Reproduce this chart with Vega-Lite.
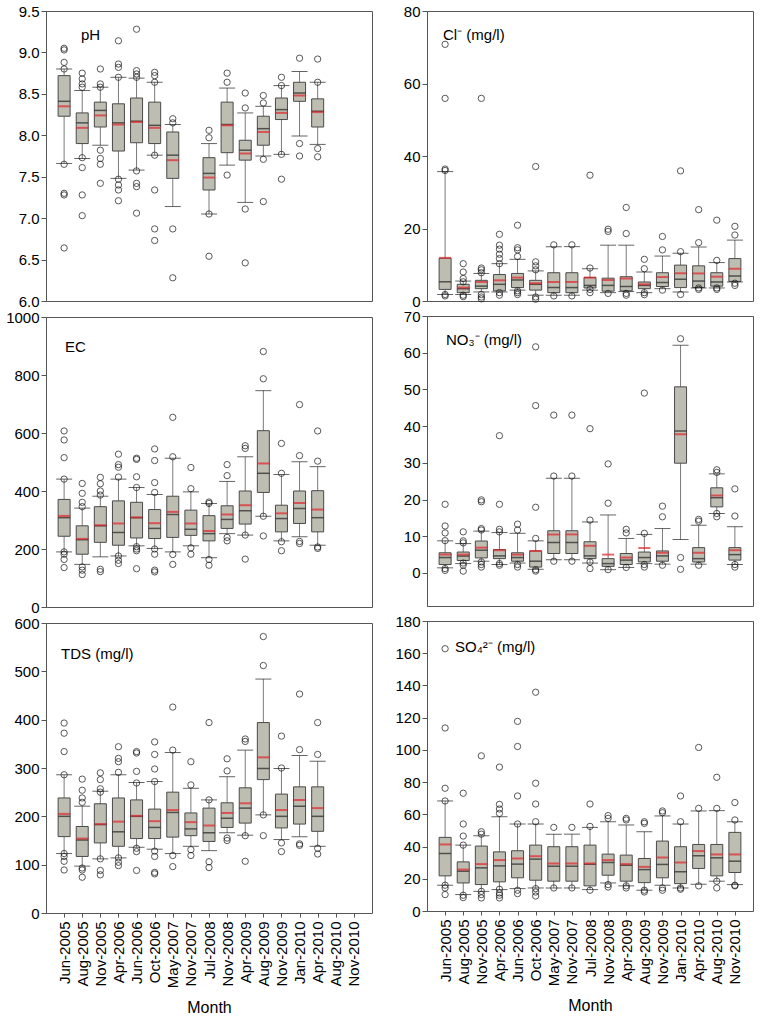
{
"$schema": "https://vega.github.io/schema/vega-lite/v6.json",
"padding": {"left": 5, "top": 3, "right": 2, "bottom": 5},
"background": "white",
"config": {
  "view": {"stroke": "#555", "strokeWidth": 1},
  "axis": {"grid": false, "labelOverlap": false, "labelFont": "Liberation Sans", "labelFontSize": 15, "labelColor": "#000", "domainColor": "#555", "tickColor": "#555", "tickSize": 5, "titleFont": "Liberation Sans", "titleFontSize": 16, "titleFontWeight": "normal", "titleColor": "#000"},
  "title": {"font": "Liberation Sans", "fontSize": 15, "fontWeight": "normal", "color": "#000", "anchor": "start", "frame": "group", "baseline": "top"}
},
"datasets": {
"stats": [
{"p":"pH","m":"Jun-2005","lo":7.66,"q1":8.23,"med":8.41,"mean":8.35,"q3":8.72,"hi":8.80},
{"p":"pH","m":"Aug-2005","lo":7.72,"q1":7.90,"med":8.15,"mean":8.09,"q3":8.27,"hi":8.54},
{"p":"pH","m":"Nov-2005","lo":7.88,"q1":8.10,"med":8.30,"mean":8.24,"q3":8.40,"hi":8.58},
{"p":"pH","m":"Apr-2006","lo":7.48,"q1":7.81,"med":8.15,"mean":8.13,"q3":8.38,"hi":8.70},
{"p":"pH","m":"Jun-2006","lo":7.58,"q1":7.91,"med":8.17,"mean":8.16,"q3":8.45,"hi":8.69},
{"p":"pH","m":"Oct-2006","lo":7.76,"q1":7.90,"med":8.12,"mean":8.09,"q3":8.40,"hi":8.64},
{"p":"pH","m":"May-2007","lo":7.14,"q1":7.48,"med":7.76,"mean":7.70,"q3":8.04,"hi":8.13},
{"p":"pH","m":"Jul-2008","lo":7.05,"q1":7.34,"med":7.54,"mean":7.49,"q3":7.73,"hi":7.90},
{"p":"pH","m":"Nov-2008","lo":7.64,"q1":7.79,"med":8.13,"mean":8.12,"q3":8.40,"hi":8.57},
{"p":"pH","m":"Apr-2009","lo":7.19,"q1":7.70,"med":7.82,"mean":7.78,"q3":7.94,"hi":8.27},
{"p":"pH","m":"Aug-2009","lo":7.75,"q1":7.88,"med":8.08,"mean":8.04,"q3":8.23,"hi":8.35},
{"p":"pH","m":"Nov-2009","lo":7.77,"q1":8.19,"med":8.31,"mean":8.27,"q3":8.45,"hi":8.60},
{"p":"pH","m":"Jan-2010","lo":7.99,"q1":8.41,"med":8.51,"mean":8.48,"q3":8.64,"hi":8.77},
{"p":"pH","m":"Apr-2010","lo":7.89,"q1":8.10,"med":8.29,"mean":8.28,"q3":8.44,"hi":8.64},
{"p":"EC","m":"Jun-2005","lo":190,"q1":244,"med":308,"mean":314,"q3":371,"hi":441},
{"p":"EC","m":"Aug-2005","lo":147,"q1":182,"med":232,"mean":235,"q3":280,"hi":341},
{"p":"EC","m":"Nov-2005","lo":173,"q1":223,"med":280,"mean":282,"q3":346,"hi":382},
{"p":"EC","m":"Apr-2006","lo":176,"q1":213,"med":257,"mean":288,"q3":366,"hi":441},
{"p":"EC","m":"Jun-2006","lo":211,"q1":238,"med":308,"mean":309,"q3":361,"hi":412},
{"p":"EC","m":"Oct-2006","lo":202,"q1":236,"med":271,"mean":289,"q3":336,"hi":388},
{"p":"EC","m":"May-2007","lo":190,"q1":240,"med":319,"mean":328,"q3":382,"hi":513},
{"p":"EC","m":"Nov-2007","lo":211,"q1":247,"med":268,"mean":288,"q3":334,"hi":397},
{"p":"EC","m":"Jul-2008","lo":170,"q1":228,"med":253,"mean":262,"q3":315,"hi":357},
{"p":"EC","m":"Nov-2008","lo":253,"q1":271,"med":302,"mean":319,"q3":349,"hi":433},
{"p":"EC","m":"Apr-2009","lo":248,"q1":286,"med":332,"mean":351,"q3":400,"hi":518},
{"p":"EC","m":"Aug-2009","lo":313,"q1":395,"med":461,"mean":495,"q3":608,"hi":746},
{"p":"EC","m":"Nov-2009","lo":228,"q1":259,"med":305,"mean":323,"q3":351,"hi":457},
{"p":"EC","m":"Jan-2010","lo":242,"q1":288,"med":340,"mean":359,"q3":400,"hi":501},
{"p":"EC","m":"Apr-2010","lo":213,"q1":259,"med":308,"mean":336,"q3":401,"hi":484},
{"p":"TDS","m":"Jun-2005","lo":123,"q1":158,"med":200,"mean":205,"q3":238,"hi":286},
{"p":"TDS","m":"Aug-2005","lo":97,"q1":117,"med":151,"mean":154,"q3":179,"hi":221},
{"p":"TDS","m":"Nov-2005","lo":112,"q1":145,"med":183,"mean":184,"q3":226,"hi":252},
{"p":"TDS","m":"Apr-2006","lo":114,"q1":138,"med":168,"mean":189,"q3":238,"hi":286},
{"p":"TDS","m":"Jun-2006","lo":136,"q1":154,"med":200,"mean":201,"q3":234,"hi":270},
{"p":"TDS","m":"Oct-2006","lo":132,"q1":154,"med":177,"mean":190,"q3":215,"hi":272},
{"p":"TDS","m":"May-2007","lo":123,"q1":157,"med":208,"mean":213,"q3":250,"hi":332},
{"p":"TDS","m":"Nov-2007","lo":138,"q1":160,"med":174,"mean":188,"q3":207,"hi":258},
{"p":"TDS","m":"Jul-2008","lo":129,"q1":148,"med":166,"mean":181,"q3":217,"hi":234},
{"p":"TDS","m":"Nov-2008","lo":166,"q1":177,"med":196,"mean":207,"q3":228,"hi":282},
{"p":"TDS","m":"Apr-2009","lo":161,"q1":186,"med":217,"mean":227,"q3":259,"hi":337},
{"p":"TDS","m":"Aug-2009","lo":203,"q1":276,"med":299,"mean":322,"q3":394,"hi":484},
{"p":"TDS","m":"Nov-2009","lo":152,"q1":176,"med":200,"mean":213,"q3":246,"hi":299},
{"p":"TDS","m":"Jan-2010","lo":158,"q1":184,"med":221,"mean":234,"q3":261,"hi":326},
{"p":"TDS","m":"Apr-2010","lo":138,"q1":169,"med":200,"mean":217,"q3":261,"hi":314},
{"p":"Cl","m":"Jun-2005","lo":1.8,"q1":3.2,"med":5.3,"mean":11.9,"q3":11.8,"hi":35.7},
{"p":"Cl","m":"Aug-2005","lo":1.8,"q1":2.3,"med":3.4,"mean":3.7,"q3":4.6,"hi":5.5},
{"p":"Cl","m":"Nov-2005","lo":2.5,"q1":3.4,"med":4.1,"mean":5.25,"q3":5.7,"hi":7.6},
{"p":"Cl","m":"Apr-2006","lo":2.5,"q1":2.8,"med":4.6,"mean":5.7,"q3":7.3,"hi":10.3},
{"p":"Cl","m":"Jun-2006","lo":3.0,"q1":3.7,"med":5.8,"mean":6.45,"q3":7.6,"hi":11.5},
{"p":"Cl","m":"Oct-2006","lo":1.6,"q1":3.0,"med":4.6,"mean":4.9,"q3":5.7,"hi":8.3},
{"p":"Cl","m":"May-2007","lo":1.6,"q1":2.3,"med":3.7,"mean":5.25,"q3":7.8,"hi":15.0},
{"p":"Cl","m":"Nov-2007","lo":1.6,"q1":2.3,"med":3.7,"mean":5.25,"q3":7.8,"hi":15.0},
{"p":"Cl","m":"Jul-2008","lo":3.0,"q1":3.6,"med":4.3,"mean":6.45,"q3":6.5,"hi":8.9},
{"p":"Cl","m":"Nov-2008","lo":2.3,"q1":2.7,"med":4.3,"mean":5.8,"q3":6.3,"hi":15.4},
{"p":"Cl","m":"Apr-2009","lo":2.6,"q1":2.8,"med":4.0,"mean":6.2,"q3":6.7,"hi":15.4},
{"p":"Cl","m":"Aug-2009","lo":2.3,"q1":3.4,"med":4.3,"mean":4.6,"q3":5.25,"hi":8.0},
{"p":"Cl","m":"Nov-2009","lo":3.4,"q1":4.0,"med":5.1,"mean":6.6,"q3":7.8,"hi":12.4},
{"p":"Cl","m":"Jan-2010","lo":2.5,"q1":3.7,"med":6.0,"mean":7.65,"q3":9.9,"hi":13.2},
{"p":"Cl","m":"Apr-2010","lo":3.6,"q1":3.7,"med":5.5,"mean":7.6,"q3":9.7,"hi":14.9},
{"p":"Cl","m":"Aug-2010","lo":3.6,"q1":4.1,"med":5.25,"mean":6.7,"q3":7.8,"hi":10.6},
{"p":"Cl","m":"Nov-2010","lo":5.25,"q1":5.4,"med":6.9,"mean":8.9,"q3":11.7,"hi":16.8},
{"p":"NO3","m":"Jun-2005","lo":1.4,"q1":2.3,"med":4.2,"mean":5.0,"q3":5.5,"hi":8.75},
{"p":"NO3","m":"Aug-2005","lo":2.55,"q1":3.4,"med":4.6,"mean":5.0,"q3":5.7,"hi":8.0},
{"p":"NO3","m":"Nov-2005","lo":3.2,"q1":4.1,"med":6.2,"mean":6.9,"q3":8.7,"hi":11.4},
{"p":"NO3","m":"Apr-2006","lo":2.3,"q1":3.9,"med":4.65,"mean":6.2,"q3":6.4,"hi":11.0},
{"p":"NO3","m":"Jun-2006","lo":2.7,"q1":3.2,"med":4.2,"mean":5.0,"q3":5.5,"hi":10.8},
{"p":"NO3","m":"Oct-2006","lo":1.0,"q1":1.6,"med":3.2,"mean":6.0,"q3":6.0,"hi":8.75},
{"p":"NO3","m":"May-2007","lo":3.6,"q1":5.3,"med":8.3,"mean":10.5,"q3":11.5,"hi":25.8},
{"p":"NO3","m":"Nov-2007","lo":3.6,"q1":5.3,"med":8.3,"mean":10.5,"q3":11.5,"hi":25.8},
{"p":"NO3","m":"Jul-2008","lo":2.7,"q1":3.9,"med":4.65,"mean":7.4,"q3":8.5,"hi":13.9},
{"p":"NO3","m":"Nov-2008","lo":0.9,"q1":1.8,"med":2.55,"mean":5.0,"q3":3.9,"hi":15.8},
{"p":"NO3","m":"Apr-2009","lo":1.5,"q1":2.3,"med":3.5,"mean":4.2,"q3":5.3,"hi":9.4},
{"p":"NO3","m":"Aug-2009","lo":2.55,"q1":3.0,"med":4.2,"mean":6.8,"q3":5.7,"hi":10.5},
{"p":"NO3","m":"Nov-2009","lo":2.4,"q1":3.2,"med":4.65,"mean":5.5,"q3":6.0,"hi":12.1},
{"p":"NO3","m":"Jan-2010","lo":9.1,"q1":29.9,"med":38.7,"mean":37.8,"q3":50.7,"hi":62.0},
{"p":"NO3","m":"Apr-2010","lo":2.4,"q1":3.0,"med":3.9,"mean":5.5,"q3":6.9,"hi":13.0},
{"p":"NO3","m":"Aug-2010","lo":16.2,"q1":18.0,"med":20.5,"mean":21.1,"q3":23.2,"hi":27.0},
{"p":"NO3","m":"Nov-2010","lo":2.3,"q1":3.5,"med":5.0,"mean":6.2,"q3":6.9,"hi":12.6},
{"p":"SO4","m":"Jun-2005","lo":16.0,"q1":21.8,"med":35.7,"mean":41.3,"q3":45.7,"hi":68.3},
{"p":"SO4","m":"Aug-2005","lo":10.2,"q1":17.4,"med":24.7,"mean":25.7,"q3":30.5,"hi":40.9},
{"p":"SO4","m":"Nov-2005","lo":12.2,"q1":16.4,"med":26.8,"mean":29.1,"q3":40.3,"hi":46.7},
{"p":"SO4","m":"Apr-2006","lo":13.3,"q1":18.1,"med":28.0,"mean":31.6,"q3":36.7,"hi":58.5},
{"p":"SO4","m":"Jun-2006","lo":13.9,"q1":20.6,"med":29.1,"mean":32.6,"q3":37.4,"hi":54.0},
{"p":"SO4","m":"Oct-2006","lo":14.3,"q1":19.1,"med":32.2,"mean":34.0,"q3":40.9,"hi":54.0},
{"p":"SO4","m":"May-2007","lo":14.3,"q1":18.5,"med":27.8,"mean":29.5,"q3":39.9,"hi":47.7},
{"p":"SO4","m":"Nov-2007","lo":14.3,"q1":18.5,"med":27.8,"mean":29.5,"q3":39.9,"hi":47.7},
{"p":"SO4","m":"Jul-2008","lo":13.3,"q1":15.6,"med":29.0,"mean":29.5,"q3":40.9,"hi":51.9},
{"p":"SO4","m":"Nov-2008","lo":17.4,"q1":22.2,"med":30.1,"mean":31.6,"q3":35.3,"hi":55.4},
{"p":"SO4","m":"Apr-2009","lo":15.6,"q1":18.5,"med":28.4,"mean":29.1,"q3":34.7,"hi":53.4},
{"p":"SO4","m":"Aug-2009","lo":12.9,"q1":17.6,"med":25.7,"mean":27.4,"q3":32.6,"hi":49.2},
{"p":"SO4","m":"Nov-2009","lo":16.0,"q1":20.6,"med":28.9,"mean":33.2,"q3":43.4,"hi":59.0},
{"p":"SO4","m":"Jan-2010","lo":14.3,"q1":17.0,"med":24.3,"mean":30.1,"q3":39.9,"hi":54.0},
{"p":"SO4","m":"Apr-2010","lo":16.6,"q1":26.4,"med":34.3,"mean":37.2,"q3":41.3,"hi":62.1},
{"p":"SO4","m":"Aug-2010","lo":18.5,"q1":21.8,"med":33.0,"mean":35.1,"q3":41.3,"hi":62.3},
{"p":"SO4","m":"Nov-2010","lo":16.4,"q1":23.9,"med":30.9,"mean":35.1,"q3":48.8,"hi":55.4}
],
"out": [
{"p":"pH","m":"Jun-2005","v":9.05},{"p":"pH","m":"Jun-2005","v":9.03},{"p":"pH","m":"Jun-2005","v":8.88},{"p":"pH","m":"Jun-2005","v":8.80},{"p":"pH","m":"Jun-2005","v":7.65},{"p":"pH","m":"Jun-2005","v":7.30},{"p":"pH","m":"Jun-2005","v":7.28},{"p":"pH","m":"Jun-2005","v":6.64},
{"p":"pH","m":"Aug-2005","v":8.75},{"p":"pH","m":"Aug-2005","v":8.68},{"p":"pH","m":"Aug-2005","v":8.62},{"p":"pH","m":"Aug-2005","v":8.58},{"p":"pH","m":"Aug-2005","v":7.73},{"p":"pH","m":"Aug-2005","v":7.61},{"p":"pH","m":"Aug-2005","v":7.28},{"p":"pH","m":"Aug-2005","v":7.03},
{"p":"pH","m":"Nov-2005","v":8.80},{"p":"pH","m":"Nov-2005","v":8.62},{"p":"pH","m":"Nov-2005","v":8.58},{"p":"pH","m":"Nov-2005","v":7.82},{"p":"pH","m":"Nov-2005","v":7.72},{"p":"pH","m":"Nov-2005","v":7.65},{"p":"pH","m":"Nov-2005","v":7.42},
{"p":"pH","m":"Apr-2006","v":9.14},{"p":"pH","m":"Apr-2006","v":8.86},{"p":"pH","m":"Apr-2006","v":8.82},{"p":"pH","m":"Apr-2006","v":8.70},{"p":"pH","m":"Apr-2006","v":7.47},{"p":"pH","m":"Apr-2006","v":7.40},{"p":"pH","m":"Apr-2006","v":7.34},{"p":"pH","m":"Apr-2006","v":7.21},
{"p":"pH","m":"Jun-2006","v":9.28},{"p":"pH","m":"Jun-2006","v":8.78},{"p":"pH","m":"Jun-2006","v":8.74},{"p":"pH","m":"Jun-2006","v":8.70},{"p":"pH","m":"Jun-2006","v":7.57},{"p":"pH","m":"Jun-2006","v":7.42},{"p":"pH","m":"Jun-2006","v":7.38},{"p":"pH","m":"Jun-2006","v":7.06},
{"p":"pH","m":"Oct-2006","v":8.76},{"p":"pH","m":"Oct-2006","v":8.72},{"p":"pH","m":"Oct-2006","v":8.64},{"p":"pH","m":"Oct-2006","v":7.76},{"p":"pH","m":"Oct-2006","v":7.34},{"p":"pH","m":"Oct-2006","v":6.87},{"p":"pH","m":"Oct-2006","v":6.73},
{"p":"pH","m":"May-2007","v":8.20},{"p":"pH","m":"May-2007","v":8.15},{"p":"pH","m":"May-2007","v":6.87},{"p":"pH","m":"May-2007","v":6.28},
{"p":"pH","m":"Jul-2008","v":8.06},{"p":"pH","m":"Jul-2008","v":7.97},{"p":"pH","m":"Jul-2008","v":7.05},{"p":"pH","m":"Jul-2008","v":6.54},
{"p":"pH","m":"Nov-2008","v":8.75},{"p":"pH","m":"Nov-2008","v":8.64},{"p":"pH","m":"Nov-2008","v":7.52},
{"p":"pH","m":"Apr-2009","v":8.51},{"p":"pH","m":"Apr-2009","v":8.33},{"p":"pH","m":"Apr-2009","v":7.11},{"p":"pH","m":"Apr-2009","v":6.46},
{"p":"pH","m":"Aug-2009","v":8.48},{"p":"pH","m":"Aug-2009","v":8.39},{"p":"pH","m":"Aug-2009","v":7.71},{"p":"pH","m":"Aug-2009","v":7.20},
{"p":"pH","m":"Nov-2009","v":8.70},{"p":"pH","m":"Nov-2009","v":8.60},{"p":"pH","m":"Nov-2009","v":7.77},{"p":"pH","m":"Nov-2009","v":7.47},
{"p":"pH","m":"Jan-2010","v":8.93},{"p":"pH","m":"Jan-2010","v":7.90},{"p":"pH","m":"Jan-2010","v":7.75},
{"p":"pH","m":"Apr-2010","v":8.92},{"p":"pH","m":"Apr-2010","v":8.64},{"p":"pH","m":"Apr-2010","v":7.84},{"p":"pH","m":"Apr-2010","v":7.74},
{"p":"EC","m":"Jun-2005","v":607},{"p":"EC","m":"Jun-2005","v":576},{"p":"EC","m":"Jun-2005","v":515},{"p":"EC","m":"Jun-2005","v":441},{"p":"EC","m":"Jun-2005","v":190},{"p":"EC","m":"Jun-2005","v":182},{"p":"EC","m":"Jun-2005","v":164},{"p":"EC","m":"Jun-2005","v":136},
{"p":"EC","m":"Aug-2005","v":426},{"p":"EC","m":"Aug-2005","v":392},{"p":"EC","m":"Aug-2005","v":361},{"p":"EC","m":"Aug-2005","v":346},{"p":"EC","m":"Aug-2005","v":138},{"p":"EC","m":"Aug-2005","v":127},{"p":"EC","m":"Aug-2005","v":112},
{"p":"EC","m":"Nov-2005","v":447},{"p":"EC","m":"Nov-2005","v":425},{"p":"EC","m":"Nov-2005","v":400},{"p":"EC","m":"Nov-2005","v":386},{"p":"EC","m":"Nov-2005","v":130},{"p":"EC","m":"Nov-2005","v":122},
{"p":"EC","m":"Apr-2006","v":527},{"p":"EC","m":"Apr-2006","v":491},{"p":"EC","m":"Apr-2006","v":482},{"p":"EC","m":"Apr-2006","v":448},{"p":"EC","m":"Apr-2006","v":176},{"p":"EC","m":"Apr-2006","v":161},{"p":"EC","m":"Apr-2006","v":150},
{"p":"EC","m":"Jun-2006","v":513},{"p":"EC","m":"Jun-2006","v":509},{"p":"EC","m":"Jun-2006","v":449},{"p":"EC","m":"Jun-2006","v":412},{"p":"EC","m":"Jun-2006","v":208},{"p":"EC","m":"Jun-2006","v":200},{"p":"EC","m":"Jun-2006","v":194},{"p":"EC","m":"Jun-2006","v":132},
{"p":"EC","m":"Oct-2006","v":545},{"p":"EC","m":"Oct-2006","v":505},{"p":"EC","m":"Oct-2006","v":429},{"p":"EC","m":"Oct-2006","v":395},{"p":"EC","m":"Oct-2006","v":200},{"p":"EC","m":"Oct-2006","v":182},{"p":"EC","m":"Oct-2006","v":127},{"p":"EC","m":"Oct-2006","v":121},
{"p":"EC","m":"May-2007","v":654},{"p":"EC","m":"May-2007","v":518},{"p":"EC","m":"May-2007","v":181},{"p":"EC","m":"May-2007","v":147},
{"p":"EC","m":"Nov-2007","v":481},{"p":"EC","m":"Nov-2007","v":408},{"p":"EC","m":"Nov-2007","v":204},{"p":"EC","m":"Nov-2007","v":182},
{"p":"EC","m":"Jul-2008","v":362},{"p":"EC","m":"Jul-2008","v":357},{"p":"EC","m":"Jul-2008","v":164},{"p":"EC","m":"Jul-2008","v":144},
{"p":"EC","m":"Nov-2008","v":491},{"p":"EC","m":"Nov-2008","v":453},{"p":"EC","m":"Nov-2008","v":240},{"p":"EC","m":"Nov-2008","v":228},
{"p":"EC","m":"Apr-2009","v":556},{"p":"EC","m":"Apr-2009","v":547},{"p":"EC","m":"Apr-2009","v":248},{"p":"EC","m":"Apr-2009","v":165},
{"p":"EC","m":"Aug-2009","v":881},{"p":"EC","m":"Aug-2009","v":787},{"p":"EC","m":"Aug-2009","v":313},{"p":"EC","m":"Aug-2009","v":245},
{"p":"EC","m":"Nov-2009","v":564},{"p":"EC","m":"Nov-2009","v":461},{"p":"EC","m":"Nov-2009","v":225},{"p":"EC","m":"Nov-2009","v":194},
{"p":"EC","m":"Jan-2010","v":698},{"p":"EC","m":"Jan-2010","v":522},{"p":"EC","m":"Jan-2010","v":226},{"p":"EC","m":"Jan-2010","v":219},
{"p":"EC","m":"Apr-2010","v":607},{"p":"EC","m":"Apr-2010","v":503},{"p":"EC","m":"Apr-2010","v":207},{"p":"EC","m":"Apr-2010","v":202},
{"p":"TDS","m":"Jun-2005","v":393},{"p":"TDS","m":"Jun-2005","v":372},{"p":"TDS","m":"Jun-2005","v":334},{"p":"TDS","m":"Jun-2005","v":286},{"p":"TDS","m":"Jun-2005","v":123},{"p":"TDS","m":"Jun-2005","v":117},{"p":"TDS","m":"Jun-2005","v":107},{"p":"TDS","m":"Jun-2005","v":89},
{"p":"TDS","m":"Aug-2005","v":277},{"p":"TDS","m":"Aug-2005","v":254},{"p":"TDS","m":"Aug-2005","v":238},{"p":"TDS","m":"Aug-2005","v":229},{"p":"TDS","m":"Aug-2005","v":93},{"p":"TDS","m":"Aug-2005","v":89},{"p":"TDS","m":"Aug-2005","v":74},
{"p":"TDS","m":"Nov-2005","v":290},{"p":"TDS","m":"Nov-2005","v":276},{"p":"TDS","m":"Nov-2005","v":257},{"p":"TDS","m":"Nov-2005","v":250},{"p":"TDS","m":"Nov-2005","v":112},{"p":"TDS","m":"Nov-2005","v":88},{"p":"TDS","m":"Nov-2005","v":79},
{"p":"TDS","m":"Apr-2006","v":344},{"p":"TDS","m":"Apr-2006","v":320},{"p":"TDS","m":"Apr-2006","v":313},{"p":"TDS","m":"Apr-2006","v":291},{"p":"TDS","m":"Apr-2006","v":114},{"p":"TDS","m":"Apr-2006","v":105},{"p":"TDS","m":"Apr-2006","v":98},
{"p":"TDS","m":"Jun-2006","v":334},{"p":"TDS","m":"Jun-2006","v":331},{"p":"TDS","m":"Jun-2006","v":293},{"p":"TDS","m":"Jun-2006","v":269},{"p":"TDS","m":"Jun-2006","v":134},{"p":"TDS","m":"Jun-2006","v":127},{"p":"TDS","m":"Jun-2006","v":88},
{"p":"TDS","m":"Oct-2006","v":354},{"p":"TDS","m":"Oct-2006","v":328},{"p":"TDS","m":"Oct-2006","v":298},{"p":"TDS","m":"Oct-2006","v":272},{"p":"TDS","m":"Oct-2006","v":128},{"p":"TDS","m":"Oct-2006","v":117},{"p":"TDS","m":"Oct-2006","v":84},{"p":"TDS","m":"Oct-2006","v":81},
{"p":"TDS","m":"May-2007","v":426},{"p":"TDS","m":"May-2007","v":337},{"p":"TDS","m":"May-2007","v":119},{"p":"TDS","m":"May-2007","v":96},
{"p":"TDS","m":"Nov-2007","v":313},{"p":"TDS","m":"Nov-2007","v":265},{"p":"TDS","m":"Nov-2007","v":131},{"p":"TDS","m":"Nov-2007","v":119},
{"p":"TDS","m":"Jul-2008","v":394},{"p":"TDS","m":"Jul-2008","v":234},{"p":"TDS","m":"Jul-2008","v":106},{"p":"TDS","m":"Jul-2008","v":94},
{"p":"TDS","m":"Nov-2008","v":319},{"p":"TDS","m":"Nov-2008","v":294},{"p":"TDS","m":"Nov-2008","v":155},{"p":"TDS","m":"Nov-2008","v":150},
{"p":"TDS","m":"Apr-2009","v":360},{"p":"TDS","m":"Apr-2009","v":355},{"p":"TDS","m":"Apr-2009","v":160},{"p":"TDS","m":"Apr-2009","v":107},
{"p":"TDS","m":"Aug-2009","v":572},{"p":"TDS","m":"Aug-2009","v":512},{"p":"TDS","m":"Aug-2009","v":203},{"p":"TDS","m":"Aug-2009","v":160},
{"p":"TDS","m":"Nov-2009","v":366},{"p":"TDS","m":"Nov-2009","v":300},{"p":"TDS","m":"Nov-2009","v":145},{"p":"TDS","m":"Nov-2009","v":127},
{"p":"TDS","m":"Jan-2010","v":453},{"p":"TDS","m":"Jan-2010","v":338},{"p":"TDS","m":"Jan-2010","v":143},{"p":"TDS","m":"Jan-2010","v":140},
{"p":"TDS","m":"Apr-2010","v":394},{"p":"TDS","m":"Apr-2010","v":328},{"p":"TDS","m":"Apr-2010","v":134},{"p":"TDS","m":"Apr-2010","v":122},
{"p":"Cl","m":"Jun-2005","v":70.8},{"p":"Cl","m":"Jun-2005","v":55.9},{"p":"Cl","m":"Jun-2005","v":36.4},{"p":"Cl","m":"Jun-2005","v":36.0},{"p":"Cl","m":"Jun-2005","v":1.8},{"p":"Cl","m":"Jun-2005","v":1.4},
{"p":"Cl","m":"Aug-2005","v":10.3},{"p":"Cl","m":"Aug-2005","v":8.0},{"p":"Cl","m":"Aug-2005","v":6.2},{"p":"Cl","m":"Aug-2005","v":5.3},{"p":"Cl","m":"Aug-2005","v":1.6},{"p":"Cl","m":"Aug-2005","v":1.2},
{"p":"Cl","m":"Nov-2005","v":55.9},{"p":"Cl","m":"Nov-2005","v":9.1},{"p":"Cl","m":"Nov-2005","v":8.6},{"p":"Cl","m":"Nov-2005","v":7.8},{"p":"Cl","m":"Nov-2005","v":1.8},{"p":"Cl","m":"Nov-2005","v":1.1},{"p":"Cl","m":"Nov-2005","v":0.6},
{"p":"Cl","m":"Apr-2006","v":18.4},{"p":"Cl","m":"Apr-2006","v":15.4},{"p":"Cl","m":"Apr-2006","v":14.3},{"p":"Cl","m":"Apr-2006","v":12.9},{"p":"Cl","m":"Apr-2006","v":11.7},{"p":"Cl","m":"Apr-2006","v":10.3},{"p":"Cl","m":"Apr-2006","v":2.3},{"p":"Cl","m":"Apr-2006","v":1.6},
{"p":"Cl","m":"Jun-2006","v":20.9},{"p":"Cl","m":"Jun-2006","v":14.7},{"p":"Cl","m":"Jun-2006","v":14.1},{"p":"Cl","m":"Jun-2006","v":12.3},{"p":"Cl","m":"Jun-2006","v":2.8},{"p":"Cl","m":"Jun-2006","v":2.3},{"p":"Cl","m":"Jun-2006","v":1.8},
{"p":"Cl","m":"Oct-2006","v":37.1},{"p":"Cl","m":"Oct-2006","v":10.8},{"p":"Cl","m":"Oct-2006","v":9.7},{"p":"Cl","m":"Oct-2006","v":8.6},{"p":"Cl","m":"Oct-2006","v":1.1},{"p":"Cl","m":"Oct-2006","v":0.5},
{"p":"Cl","m":"May-2007","v":15.5},{"p":"Cl","m":"May-2007","v":1.4},
{"p":"Cl","m":"Nov-2007","v":15.5},{"p":"Cl","m":"Nov-2007","v":1.4},
{"p":"Cl","m":"Jul-2008","v":34.7},{"p":"Cl","m":"Jul-2008","v":9.1},{"p":"Cl","m":"Jul-2008","v":3.2},{"p":"Cl","m":"Jul-2008","v":2.3},
{"p":"Cl","m":"Nov-2008","v":19.8},{"p":"Cl","m":"Nov-2008","v":19.2},{"p":"Cl","m":"Nov-2008","v":2.1},
{"p":"Cl","m":"Apr-2009","v":25.8},{"p":"Cl","m":"Apr-2009","v":18.6},{"p":"Cl","m":"Apr-2009","v":2.1},{"p":"Cl","m":"Apr-2009","v":1.6},
{"p":"Cl","m":"Aug-2009","v":11.5},{"p":"Cl","m":"Aug-2009","v":8.9},{"p":"Cl","m":"Aug-2009","v":2.3},{"p":"Cl","m":"Aug-2009","v":1.75},
{"p":"Cl","m":"Nov-2009","v":17.8},{"p":"Cl","m":"Nov-2009","v":14.1},{"p":"Cl","m":"Nov-2009","v":3.0},
{"p":"Cl","m":"Jan-2010","v":35.9},{"p":"Cl","m":"Jan-2010","v":13.6},{"p":"Cl","m":"Jan-2010","v":1.8},
{"p":"Cl","m":"Apr-2010","v":25.2},{"p":"Cl","m":"Apr-2010","v":16.1},{"p":"Cl","m":"Apr-2010","v":3.6},{"p":"Cl","m":"Apr-2010","v":3.2},
{"p":"Cl","m":"Aug-2010","v":22.3},{"p":"Cl","m":"Aug-2010","v":11.2},{"p":"Cl","m":"Aug-2010","v":3.6},{"p":"Cl","m":"Aug-2010","v":3.2},
{"p":"Cl","m":"Nov-2010","v":20.6},{"p":"Cl","m":"Nov-2010","v":18.2},{"p":"Cl","m":"Nov-2010","v":4.9},{"p":"Cl","m":"Nov-2010","v":4.3},
{"p":"NO3","m":"Jun-2005","v":18.7},{"p":"NO3","m":"Jun-2005","v":12.8},{"p":"NO3","m":"Jun-2005","v":10.9},{"p":"NO3","m":"Jun-2005","v":8.8},{"p":"NO3","m":"Jun-2005","v":1.2},{"p":"NO3","m":"Jun-2005","v":0.7},
{"p":"NO3","m":"Aug-2005","v":11.2},{"p":"NO3","m":"Aug-2005","v":8.75},{"p":"NO3","m":"Aug-2005","v":8.2},{"p":"NO3","m":"Aug-2005","v":2.7},{"p":"NO3","m":"Aug-2005","v":2.1},{"p":"NO3","m":"Aug-2005","v":0.5},
{"p":"NO3","m":"Nov-2005","v":19.9},{"p":"NO3","m":"Nov-2005","v":19.4},{"p":"NO3","m":"Nov-2005","v":12.1},{"p":"NO3","m":"Nov-2005","v":11.7},{"p":"NO3","m":"Nov-2005","v":3.0},{"p":"NO3","m":"Nov-2005","v":2.3},{"p":"NO3","m":"Nov-2005","v":1.6},
{"p":"NO3","m":"Apr-2006","v":37.4},{"p":"NO3","m":"Apr-2006","v":18.7},{"p":"NO3","m":"Apr-2006","v":11.9},{"p":"NO3","m":"Apr-2006","v":11.2},{"p":"NO3","m":"Apr-2006","v":2.55},{"p":"NO3","m":"Apr-2006","v":2.1},
{"p":"NO3","m":"Jun-2006","v":13.3},{"p":"NO3","m":"Jun-2006","v":11.7},{"p":"NO3","m":"Jun-2006","v":2.3},{"p":"NO3","m":"Jun-2006","v":1.6},
{"p":"NO3","m":"Oct-2006","v":61.6},{"p":"NO3","m":"Oct-2006","v":45.6},{"p":"NO3","m":"Oct-2006","v":17.9},{"p":"NO3","m":"Oct-2006","v":9.4},{"p":"NO3","m":"Oct-2006","v":0.9},{"p":"NO3","m":"Oct-2006","v":0.5},
{"p":"NO3","m":"May-2007","v":43.0},{"p":"NO3","m":"May-2007","v":26.4},{"p":"NO3","m":"May-2007","v":3.2},
{"p":"NO3","m":"Nov-2007","v":43.0},{"p":"NO3","m":"Nov-2007","v":26.4},{"p":"NO3","m":"Nov-2007","v":3.2},
{"p":"NO3","m":"Jul-2008","v":39.3},{"p":"NO3","m":"Jul-2008","v":14.4},{"p":"NO3","m":"Jul-2008","v":3.0},{"p":"NO3","m":"Jul-2008","v":1.2},
{"p":"NO3","m":"Nov-2008","v":29.7},{"p":"NO3","m":"Nov-2008","v":19.0},{"p":"NO3","m":"Nov-2008","v":0.9},
{"p":"NO3","m":"Apr-2009","v":11.9},{"p":"NO3","m":"Apr-2009","v":10.9},{"p":"NO3","m":"Apr-2009","v":1.5},
{"p":"NO3","m":"Aug-2009","v":49.0},{"p":"NO3","m":"Aug-2009","v":10.8},{"p":"NO3","m":"Aug-2009","v":2.3},{"p":"NO3","m":"Aug-2009","v":1.6},
{"p":"NO3","m":"Nov-2009","v":18.2},{"p":"NO3","m":"Nov-2009","v":15.3},{"p":"NO3","m":"Nov-2009","v":2.1},
{"p":"NO3","m":"Jan-2010","v":63.8},{"p":"NO3","m":"Jan-2010","v":4.2},{"p":"NO3","m":"Jan-2010","v":1.0},
{"p":"NO3","m":"Apr-2010","v":14.6},{"p":"NO3","m":"Apr-2010","v":14.1},{"p":"NO3","m":"Apr-2010","v":2.1},
{"p":"NO3","m":"Aug-2010","v":28.1},{"p":"NO3","m":"Aug-2010","v":27.4},{"p":"NO3","m":"Aug-2010","v":16.2},{"p":"NO3","m":"Aug-2010","v":15.3},
{"p":"NO3","m":"Nov-2010","v":22.9},{"p":"NO3","m":"Nov-2010","v":15.5},{"p":"NO3","m":"Nov-2010","v":2.3},{"p":"NO3","m":"Nov-2010","v":1.6},
{"p":"SO4","m":"Jun-2005","v":162.8},{"p":"SO4","m":"Jun-2005","v":113.6},{"p":"SO4","m":"Jun-2005","v":76.2},{"p":"SO4","m":"Jun-2005","v":68.3},{"p":"SO4","m":"Jun-2005","v":16.0},{"p":"SO4","m":"Jun-2005","v":14.3},{"p":"SO4","m":"Jun-2005","v":10.2},
{"p":"SO4","m":"Aug-2005","v":73.1},{"p":"SO4","m":"Aug-2005","v":54.0},{"p":"SO4","m":"Aug-2005","v":46.5},{"p":"SO4","m":"Aug-2005","v":40.9},{"p":"SO4","m":"Aug-2005","v":9.8},{"p":"SO4","m":"Aug-2005","v":8.3},
{"p":"SO4","m":"Nov-2005","v":96.3},{"p":"SO4","m":"Nov-2005","v":49.2},{"p":"SO4","m":"Nov-2005","v":47.7},{"p":"SO4","m":"Nov-2005","v":12.2},{"p":"SO4","m":"Nov-2005","v":10.2},{"p":"SO4","m":"Nov-2005","v":8.1},
{"p":"SO4","m":"Apr-2006","v":89.3},{"p":"SO4","m":"Apr-2006","v":66.2},{"p":"SO4","m":"Apr-2006","v":63.3},{"p":"SO4","m":"Apr-2006","v":60.6},{"p":"SO4","m":"Apr-2006","v":13.5},{"p":"SO4","m":"Apr-2006","v":11.2},{"p":"SO4","m":"Apr-2006","v":9.8},{"p":"SO4","m":"Apr-2006","v":8.1},
{"p":"SO4","m":"Jun-2006","v":117.7},{"p":"SO4","m":"Jun-2006","v":102.1},{"p":"SO4","m":"Jun-2006","v":71.4},{"p":"SO4","m":"Jun-2006","v":54.0},{"p":"SO4","m":"Jun-2006","v":12.9},{"p":"SO4","m":"Jun-2006","v":10.8},
{"p":"SO4","m":"Oct-2006","v":135.8},{"p":"SO4","m":"Oct-2006","v":79.3},{"p":"SO4","m":"Oct-2006","v":66.4},{"p":"SO4","m":"Oct-2006","v":55.4},{"p":"SO4","m":"Oct-2006","v":13.9},{"p":"SO4","m":"Oct-2006","v":11.8},{"p":"SO4","m":"Oct-2006","v":9.3},
{"p":"SO4","m":"May-2007","v":51.9},{"p":"SO4","m":"May-2007","v":14.3},
{"p":"SO4","m":"Nov-2007","v":51.9},{"p":"SO4","m":"Nov-2007","v":14.3},
{"p":"SO4","m":"Jul-2008","v":66.4},{"p":"SO4","m":"Jul-2008","v":52.5},{"p":"SO4","m":"Jul-2008","v":12.9},
{"p":"SO4","m":"Nov-2008","v":59.2},{"p":"SO4","m":"Nov-2008","v":57.5},{"p":"SO4","m":"Nov-2008","v":16.4},{"p":"SO4","m":"Nov-2008","v":14.9},
{"p":"SO4","m":"Apr-2009","v":57.5},{"p":"SO4","m":"Apr-2009","v":56.5},{"p":"SO4","m":"Apr-2009","v":15.6},{"p":"SO4","m":"Apr-2009","v":14.3},
{"p":"SO4","m":"Aug-2009","v":55.4},{"p":"SO4","m":"Aug-2009","v":54.4},{"p":"SO4","m":"Aug-2009","v":12.9},{"p":"SO4","m":"Aug-2009","v":11.8},
{"p":"SO4","m":"Nov-2009","v":62.1},{"p":"SO4","m":"Nov-2009","v":61.0},{"p":"SO4","m":"Nov-2009","v":14.3},{"p":"SO4","m":"Nov-2009","v":12.9},
{"p":"SO4","m":"Jan-2010","v":71.4},{"p":"SO4","m":"Jan-2010","v":55.4},{"p":"SO4","m":"Jan-2010","v":14.3},{"p":"SO4","m":"Jan-2010","v":13.5},
{"p":"SO4","m":"Apr-2010","v":101.5},{"p":"SO4","m":"Apr-2010","v":63.7},{"p":"SO4","m":"Apr-2010","v":15.6},
{"p":"SO4","m":"Aug-2010","v":83.0},{"p":"SO4","m":"Aug-2010","v":63.7},{"p":"SO4","m":"Aug-2010","v":18.5},{"p":"SO4","m":"Aug-2010","v":14.3},
{"p":"SO4","m":"Nov-2010","v":67.3},{"p":"SO4","m":"Nov-2010","v":56.5},{"p":"SO4","m":"Nov-2010","v":16.0},{"p":"SO4","m":"Nov-2010","v":15.6}
]
},
"spacing": 21,
"hconcat": [
{"bounds": "flush", "spacing": 16, "vconcat": [
{"width": 326, "height": 290,
 "title": {"text": "pH", "dx": 35, "offset": -39},
 "data": {"name": "stats"}, "transform": [{"filter": "datum.p === 'pH'"}],
 "encoding": {"x": {"field": "m", "type": "ordinal", "scale": {"type": "point", "padding": 1, "domain": ["Jun-2005","Aug-2005","Nov-2005","Apr-2006","Jun-2006","Oct-2006","May-2007","Nov-2007","Jul-2008","Nov-2008","Apr-2009","Aug-2009","Nov-2009","Jan-2010","Apr-2010","Aug-2010","Nov-2010"]}, "axis": {"labels": false, "ticks": false, "domain": false, "title": null}}},
 "layer": [
  {"mark": {"type": "rule", "color": "#7a7a7a"}, "encoding": {"y": {"field": "lo", "type": "quantitative", "title": null, "scale": {"domain": [6, 9.5], "nice": false, "zero": false}, "axis": {"values": [6,6.5,7,7.5,8,8.5,9,9.5], "format": ".1f", "labelOverlap": false}}, "y2": {"field": "hi"}}},
  {"mark": {"type": "bar", "size": 12, "fill": "#bdbdb2", "stroke": "#4a4a4a", "strokeWidth": 1}, "encoding": {"y": {"field": "q1", "type": "quantitative", "title": null}, "y2": {"field": "q3"}}},
  {"mark": {"type": "tick", "size": 16, "thickness": 1, "color": "#222"}, "encoding": {"y": {"field": "lo", "type": "quantitative", "title": null}}},
  {"mark": {"type": "tick", "size": 16, "thickness": 1, "color": "#222"}, "encoding": {"y": {"field": "hi", "type": "quantitative", "title": null}}},
  {"mark": {"type": "tick", "size": 12, "thickness": 1.5, "color": "#222"}, "encoding": {"y": {"field": "med", "type": "quantitative", "title": null}}},
  {"mark": {"type": "tick", "size": 12, "thickness": 2, "color": "#e3262b"}, "encoding": {"y": {"field": "mean", "type": "quantitative", "title": null}}},
  {"data": {"name": "out"}, "transform": [{"filter": "datum.p === 'pH'"}], "mark": {"type": "point", "shape": "circle", "filled": false, "size": 40, "stroke": "#111", "strokeWidth": 1}, "encoding": {"y": {"field": "v", "type": "quantitative", "title": null}}}
 ]},
{"width": 326, "height": 290,
 "title": {"text": "EC", "dx": 19, "offset": -45},
 "data": {"name": "stats"}, "transform": [{"filter": "datum.p === 'EC'"}],
 "encoding": {"x": {"field": "m", "type": "ordinal", "scale": {"type": "point", "padding": 1, "domain": ["Jun-2005","Aug-2005","Nov-2005","Apr-2006","Jun-2006","Oct-2006","May-2007","Nov-2007","Jul-2008","Nov-2008","Apr-2009","Aug-2009","Nov-2009","Jan-2010","Apr-2010","Aug-2010","Nov-2010"]}, "axis": {"labels": false, "ticks": false, "domain": false, "title": null}}},
 "layer": [
  {"mark": {"type": "rule", "color": "#7a7a7a"}, "encoding": {"y": {"field": "lo", "type": "quantitative", "title": null, "scale": {"domain": [0, 1000], "nice": false}, "axis": {"values": [0,200,400,600,800,1000], "format": "d", "labelOverlap": false}}, "y2": {"field": "hi"}}},
  {"mark": {"type": "bar", "size": 12, "fill": "#bdbdb2", "stroke": "#4a4a4a", "strokeWidth": 1}, "encoding": {"y": {"field": "q1", "type": "quantitative", "title": null}, "y2": {"field": "q3"}}},
  {"mark": {"type": "tick", "size": 16, "thickness": 1, "color": "#222"}, "encoding": {"y": {"field": "lo", "type": "quantitative", "title": null}}},
  {"mark": {"type": "tick", "size": 16, "thickness": 1, "color": "#222"}, "encoding": {"y": {"field": "hi", "type": "quantitative", "title": null}}},
  {"mark": {"type": "tick", "size": 12, "thickness": 1.5, "color": "#222"}, "encoding": {"y": {"field": "med", "type": "quantitative", "title": null}}},
  {"mark": {"type": "tick", "size": 12, "thickness": 2, "color": "#e3262b"}, "encoding": {"y": {"field": "mean", "type": "quantitative", "title": null}}},
  {"data": {"name": "out"}, "transform": [{"filter": "datum.p === 'EC'"}], "mark": {"type": "point", "shape": "circle", "filled": false, "size": 40, "stroke": "#111", "strokeWidth": 1}, "encoding": {"y": {"field": "v", "type": "quantitative", "title": null}}}
 ]},
{"width": 326, "height": 290,
 "title": {"text": "TDS (mg/l)", "dx": 15, "offset": -46},
 "data": {"name": "stats"}, "transform": [{"filter": "datum.p === 'TDS'"}],
 "encoding": {"x": {"field": "m", "type": "ordinal", "scale": {"type": "point", "padding": 1, "domain": ["Jun-2005","Aug-2005","Nov-2005","Apr-2006","Jun-2006","Oct-2006","May-2007","Nov-2007","Jul-2008","Nov-2008","Apr-2009","Aug-2009","Nov-2009","Jan-2010","Apr-2010","Aug-2010","Nov-2010"]}, "axis": {"labelAngle": -90, "title": "Month", "tickSize": 4, "labelPadding": 4, "titlePadding": 12, "domain": false}}},
 "layer": [
  {"mark": {"type": "rule", "color": "#7a7a7a"}, "encoding": {"y": {"field": "lo", "type": "quantitative", "title": null, "scale": {"domain": [0, 600], "nice": false}, "axis": {"values": [0,100,200,300,400,500,600], "labelOverlap": false}}, "y2": {"field": "hi"}}},
  {"mark": {"type": "bar", "size": 12, "fill": "#bdbdb2", "stroke": "#4a4a4a", "strokeWidth": 1}, "encoding": {"y": {"field": "q1", "type": "quantitative", "title": null}, "y2": {"field": "q3"}}},
  {"mark": {"type": "tick", "size": 16, "thickness": 1, "color": "#222"}, "encoding": {"y": {"field": "lo", "type": "quantitative", "title": null}}},
  {"mark": {"type": "tick", "size": 16, "thickness": 1, "color": "#222"}, "encoding": {"y": {"field": "hi", "type": "quantitative", "title": null}}},
  {"mark": {"type": "tick", "size": 12, "thickness": 1.5, "color": "#222"}, "encoding": {"y": {"field": "med", "type": "quantitative", "title": null}}},
  {"mark": {"type": "tick", "size": 12, "thickness": 2, "color": "#e3262b"}, "encoding": {"y": {"field": "mean", "type": "quantitative", "title": null}}},
  {"data": {"name": "out"}, "transform": [{"filter": "datum.p === 'TDS'"}], "mark": {"type": "point", "shape": "circle", "filled": false, "size": 40, "stroke": "#111", "strokeWidth": 1}, "encoding": {"y": {"field": "v", "type": "quantitative", "title": null}}}
 ]}
]},
{"bounds": "flush", "spacing": 15, "vconcat": [
{"width": 326, "height": 290,
 "title": {"text": "Cl⁻ (mg/l)", "dx": 16, "offset": -39},
 "data": {"name": "stats"}, "transform": [{"filter": "datum.p === 'Cl'"}],
 "encoding": {"x": {"field": "m", "type": "ordinal", "scale": {"type": "point", "padding": 1, "domain": ["Jun-2005","Aug-2005","Nov-2005","Apr-2006","Jun-2006","Oct-2006","May-2007","Nov-2007","Jul-2008","Nov-2008","Apr-2009","Aug-2009","Nov-2009","Jan-2010","Apr-2010","Aug-2010","Nov-2010"]}, "axis": {"labels": false, "ticks": false, "domain": false, "title": null}}},
 "layer": [
  {"mark": {"type": "rule", "color": "#7a7a7a"}, "encoding": {"y": {"field": "lo", "type": "quantitative", "title": null, "scale": {"domain": [0, 80], "nice": false}, "axis": {"values": [0,20,40,60,80], "labelOverlap": false}}, "y2": {"field": "hi"}}},
  {"mark": {"type": "bar", "size": 12, "fill": "#bdbdb2", "stroke": "#4a4a4a", "strokeWidth": 1}, "encoding": {"y": {"field": "q1", "type": "quantitative", "title": null}, "y2": {"field": "q3"}}},
  {"mark": {"type": "tick", "size": 16, "thickness": 1, "color": "#222"}, "encoding": {"y": {"field": "lo", "type": "quantitative", "title": null}}},
  {"mark": {"type": "tick", "size": 16, "thickness": 1, "color": "#222"}, "encoding": {"y": {"field": "hi", "type": "quantitative", "title": null}}},
  {"mark": {"type": "tick", "size": 12, "thickness": 1.5, "color": "#222"}, "encoding": {"y": {"field": "med", "type": "quantitative", "title": null}}},
  {"mark": {"type": "tick", "size": 12, "thickness": 2, "color": "#e3262b"}, "encoding": {"y": {"field": "mean", "type": "quantitative", "title": null}}},
  {"data": {"name": "out"}, "transform": [{"filter": "datum.p === 'Cl'"}], "mark": {"type": "point", "shape": "circle", "filled": false, "size": 40, "stroke": "#111", "strokeWidth": 1}, "encoding": {"y": {"field": "v", "type": "quantitative", "title": null}}}
 ]},
{"width": 326, "height": 290,
 "title": {"text": "NO₃⁻ (mg/l)", "dx": 19, "offset": -39},
 "data": {"name": "stats"}, "transform": [{"filter": "datum.p === 'NO3'"}],
 "encoding": {"x": {"field": "m", "type": "ordinal", "scale": {"type": "point", "padding": 1, "domain": ["Jun-2005","Aug-2005","Nov-2005","Apr-2006","Jun-2006","Oct-2006","May-2007","Nov-2007","Jul-2008","Nov-2008","Apr-2009","Aug-2009","Nov-2009","Jan-2010","Apr-2010","Aug-2010","Nov-2010"]}, "axis": {"labels": false, "ticks": false, "domain": false, "title": null}}},
 "layer": [
  {"mark": {"type": "rule", "color": "#7a7a7a"}, "encoding": {"y": {"field": "lo", "type": "quantitative", "title": null, "scale": {"domain": [-9, 70], "nice": false, "zero": false}, "axis": {"values": [0,10,20,30,40,50,60,70], "labelOverlap": false}}, "y2": {"field": "hi"}}},
  {"mark": {"type": "bar", "size": 12, "fill": "#bdbdb2", "stroke": "#4a4a4a", "strokeWidth": 1}, "encoding": {"y": {"field": "q1", "type": "quantitative", "title": null}, "y2": {"field": "q3"}}},
  {"mark": {"type": "tick", "size": 16, "thickness": 1, "color": "#222"}, "encoding": {"y": {"field": "lo", "type": "quantitative", "title": null}}},
  {"mark": {"type": "tick", "size": 16, "thickness": 1, "color": "#222"}, "encoding": {"y": {"field": "hi", "type": "quantitative", "title": null}}},
  {"mark": {"type": "tick", "size": 12, "thickness": 1.5, "color": "#222"}, "encoding": {"y": {"field": "med", "type": "quantitative", "title": null}}},
  {"mark": {"type": "tick", "size": 12, "thickness": 2, "color": "#e3262b"}, "encoding": {"y": {"field": "mean", "type": "quantitative", "title": null}}},
  {"data": {"name": "out"}, "transform": [{"filter": "datum.p === 'NO3'"}], "mark": {"type": "point", "shape": "circle", "filled": false, "size": 40, "stroke": "#111", "strokeWidth": 1}, "encoding": {"y": {"field": "v", "type": "quantitative", "title": null}}}
 ]},
{"width": 326, "height": 290,
 "title": {"text": "SO₄²⁻ (mg/l)", "dx": 28, "offset": -41},
 "data": {"name": "stats"}, "transform": [{"filter": "datum.p === 'SO4'"}],
 "encoding": {"x": {"field": "m", "type": "ordinal", "scale": {"type": "point", "padding": 1, "domain": ["Jun-2005","Aug-2005","Nov-2005","Apr-2006","Jun-2006","Oct-2006","May-2007","Nov-2007","Jul-2008","Nov-2008","Apr-2009","Aug-2009","Nov-2009","Jan-2010","Apr-2010","Aug-2010","Nov-2010"]}, "axis": {"labelAngle": -90, "title": "Month", "tickSize": 4, "labelPadding": 4, "titlePadding": 12, "domain": false}}},
 "layer": [
  {"mark": {"type": "rule", "color": "#7a7a7a"}, "encoding": {"y": {"field": "lo", "type": "quantitative", "title": null, "scale": {"domain": [0, 180], "nice": false}, "axis": {"values": [0,20,40,60,80,100,120,140,160,180], "tickCount": 10, "labelOverlap": false}}, "y2": {"field": "hi"}}},
  {"mark": {"type": "bar", "size": 12, "fill": "#bdbdb2", "stroke": "#4a4a4a", "strokeWidth": 1}, "encoding": {"y": {"field": "q1", "type": "quantitative", "title": null}, "y2": {"field": "q3"}}},
  {"mark": {"type": "tick", "size": 16, "thickness": 1, "color": "#222"}, "encoding": {"y": {"field": "lo", "type": "quantitative", "title": null}}},
  {"mark": {"type": "tick", "size": 16, "thickness": 1, "color": "#222"}, "encoding": {"y": {"field": "hi", "type": "quantitative", "title": null}}},
  {"mark": {"type": "tick", "size": 12, "thickness": 1.5, "color": "#222"}, "encoding": {"y": {"field": "med", "type": "quantitative", "title": null}}},
  {"mark": {"type": "tick", "size": 12, "thickness": 2, "color": "#e3262b"}, "encoding": {"y": {"field": "mean", "type": "quantitative", "title": null}}},
  {"data": {"name": "out"}, "transform": [{"filter": "datum.p === 'SO4'"}], "mark": {"type": "point", "shape": "circle", "filled": false, "size": 40, "stroke": "#111", "strokeWidth": 1}, "encoding": {"y": {"field": "v", "type": "quantitative", "title": null}}}
 ]}
]}
]
}
